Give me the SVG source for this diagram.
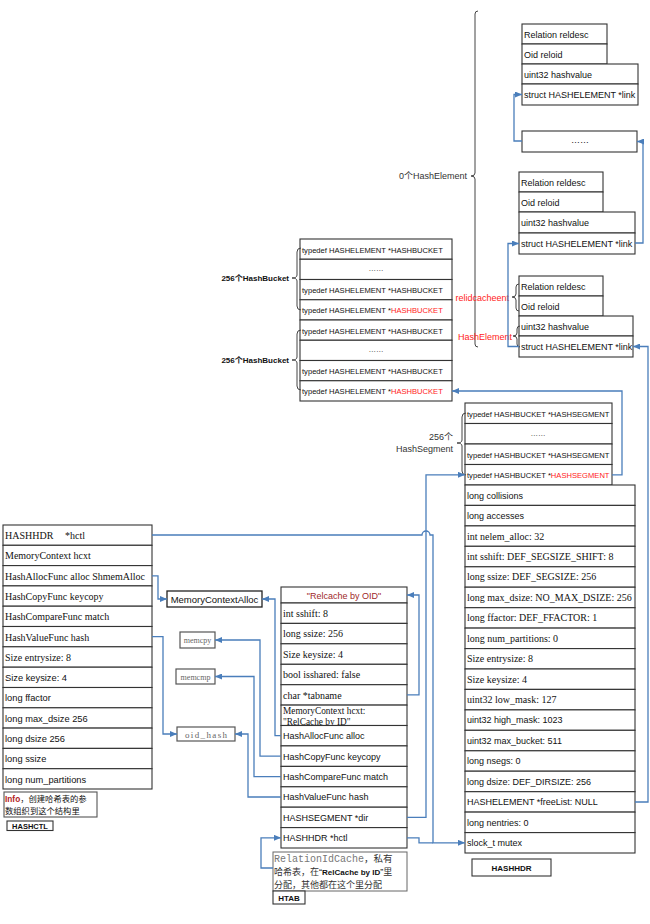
<svg xmlns="http://www.w3.org/2000/svg" width="650" height="924" viewBox="0 0 650 924">
<defs>
<style>
.b{fill:#fff;stroke:#333;stroke-width:1.1}
.s{font-family:"Liberation Sans","Noto Sans CJK SC",sans-serif;font-size:9px;fill:#111}
.t{font-family:"Liberation Serif","Noto Sans CJK SC",serif;font-size:10px;fill:#111}
.sm{font-size:7.6px}
.r{fill:#FF1A1A}
.c{fill:none;stroke:#4A7EBB;stroke-width:1.3}
.br{fill:none;stroke:#444;stroke-width:1}
.lb{font-family:"Liberation Sans","Noto Sans CJK SC",sans-serif;font-size:9px;fill:#333}
.bd{font-weight:bold}
.g{font-family:"Liberation Serif",serif;font-size:8px;fill:#666}
.cj{font-family:"Noto Sans CJK SC",sans-serif}
.mid{text-anchor:middle}
.end{text-anchor:end}
</style>
<marker id="a" markerWidth="7" markerHeight="6" refX="7" refY="3" orient="auto" markerUnits="userSpaceOnUse"><path d="M0,0L7,3L0,6z" fill="#4A7EBB"/></marker>
</defs>
<rect width="650" height="924" fill="#fff"/>

<!-- HashElement 1 -->
<g id="elem1">
<rect class="b" x="522" y="24" width="85" height="20"/><text class="s" x="524" y="37.5">Relation reldesc</text>
<rect class="b" x="522" y="44" width="85" height="20"/><text class="s" x="524" y="57.5">Oid reloid</text>
<rect class="b" x="522" y="64" width="116" height="20"/><text class="s" x="524" y="77.5">uint32 hashvalue</text>
<rect class="b" x="522" y="84" width="116" height="21"/><text class="s" x="524" y="98">struct HASHELEMENT *link</text>
</g>
<g id="elemdots">
<rect class="b" x="522" y="131" width="115" height="21"/><text class="s mid" x="580" y="143">……</text>
</g>
<!-- HashElement 2 -->
<g id="elem2">
<rect class="b" x="519" y="172" width="84" height="20"/><text class="s" x="521" y="185.5">Relation reldesc</text>
<rect class="b" x="519" y="192" width="84" height="20"/><text class="s" x="521" y="205.5">Oid reloid</text>
<rect class="b" x="519" y="212" width="116" height="21"/><text class="s" x="521" y="226">uint32 hashvalue</text>
<rect class="b" x="519" y="233" width="116" height="21"/><text class="s" x="521" y="247">struct HASHELEMENT *link</text>
</g>
<!-- HashElement 3 -->
<g id="elem3">
<rect class="b" x="519" y="276" width="84" height="20"/><text class="s" x="521" y="289.5">Relation reldesc</text>
<rect class="b" x="519" y="296" width="84" height="20"/><text class="s" x="521" y="309.5">Oid reloid</text>
<rect class="b" x="519" y="316" width="114" height="20"/><text class="s" x="521" y="329.5">uint32 hashvalue</text>
<rect class="b" x="519" y="336" width="114" height="21"/><text class="s" x="521" y="350">struct HASHELEMENT *link</text>
</g>

<!-- labels & braces -->
<g id="elemlabels">
<path class="br" d="M478,11 Q475,11 475,14 L475,173 Q475,176 471,176 Q475,176 475,179 L475,344 Q475,347 478,347"/>
<text class="lb end" x="467" y="179">0个HashElement</text>
<path class="br" d="M519,284 Q516,284 516,287 L516,294 Q516,297 512,297 Q516,297 516,300 L516,308 Q516,311 519,311"/>
<text class="s r end" x="509" y="300.5">relidcacheent</text>
<path class="br" d="M520,326 Q517,326 517,329 L517,333 Q517,336 513,336 Q517,336 517,339 L517,344 Q517,347 520,347"/>
<text class="s r end" x="512" y="339.5">HashElement</text>
</g>

<!-- HashBucket array -->
<g id="buckets">
<rect class="b" x="300" y="239" width="152" height="20.25"/><text class="s sm" x="302" y="252.5">typedef HASHELEMENT *HASHBUCKET</text>
<rect class="b" x="300" y="259.25" width="152" height="20.25"/><text class="s sm mid" x="376" y="271">……</text>
<rect class="b" x="300" y="279.5" width="152" height="20.25"/><text class="s sm" x="302" y="293">typedef HASHELEMENT *HASHBUCKET</text>
<rect class="b" x="300" y="299.75" width="152" height="20.25"/><text class="s sm" x="302" y="313.3">typedef HASHELEMENT *<tspan class="r">HASHBUCKET</tspan></text>
<rect class="b" x="300" y="320" width="152" height="20.25"/><text class="s sm" x="302" y="333.5">typedef HASHELEMENT *HASHBUCKET</text>
<rect class="b" x="300" y="340.25" width="152" height="20.25"/><text class="s sm mid" x="376" y="352">……</text>
<rect class="b" x="300" y="360.5" width="152" height="20.25"/><text class="s sm" x="302" y="374">typedef HASHELEMENT *HASHBUCKET</text>
<rect class="b" x="300" y="380.75" width="152" height="20.25"/><text class="s sm" x="302" y="394.3">typedef HASHELEMENT *<tspan class="r">HASHBUCKET</tspan></text>
<path class="br" d="M301,248 Q297,248 297,252 L297,275 Q297,278 292,278 Q297,278 297,281 L297,306 Q297,310 301,310"/>
<path class="br" d="M301,330 Q297,330 297,334 L297,357 Q297,360 292,360 Q297,360 297,363 L297,386 Q297,390 301,390"/>
<text class="s bd end" x="289" y="281" style="font-size:8px">256个HashBucket</text>
<text class="s bd end" x="289" y="363" style="font-size:8px">256个HashBucket</text>
</g>

<!-- HashSegment array -->
<g id="segments">
<rect class="b" x="465" y="403" width="147" height="20.5"/><text class="s sm" x="467" y="416.5">typedef HASHBUCKET *HASHSEGMENT</text>
<rect class="b" x="465" y="423.5" width="147" height="20.5"/><text class="s sm mid" x="538" y="435.5">……</text>
<rect class="b" x="465" y="444" width="147" height="20.5"/><text class="s sm" x="467" y="457.5">typedef HASHBUCKET *HASHSEGMENT</text>
<rect class="b" x="465" y="464.5" width="147" height="20.5"/><text class="s sm" x="467" y="478">typedef HASHBUCKET *<tspan class="r">HASHSEGMENT</tspan></text>
<path class="br" d="M466,413 Q462,413 462,417 L462,440 Q462,443 457,443 Q462,443 462,446 L462,471 Q462,475 466,475"/>
<text class="lb end" x="453" y="440">256个<tspan x="453" dy="12">HashSegment</tspan></text>
</g>

<!-- HASHHDR -->
<g id="hashhdr">
<rect class="b" x="465" y="485" width="170" height="20.4"/><text class="s" x="467" y="498.5">long collisions</text>
<rect class="b" x="465" y="505.4" width="170" height="20.5"/><text class="s" x="467" y="519">long accesses</text>
<rect class="b" x="465" y="525.9" width="170" height="20.4"/><text class="t" x="467" y="539.5">int nelem_alloc: 32</text>
<rect class="b" x="465" y="546.3" width="170" height="20.5"/><text class="t" x="467" y="560">int sshift: DEF_SEGSIZE_SHIFT: 8</text>
<rect class="b" x="465" y="566.8" width="170" height="20.4"/><text class="t" x="467" y="580.4">long ssize: DEF_SEGSIZE: 256</text>
<rect class="b" x="465" y="587.2" width="170" height="20.5"/><text class="t" x="467" y="600.9">long max_dsize: NO_MAX_DSIZE: 256</text>
<rect class="b" x="465" y="607.7" width="170" height="20.4"/><text class="t" x="467" y="621.3">long ffactor: DEF_FFACTOR: 1</text>
<rect class="b" x="465" y="628.1" width="170" height="20.5"/><text class="t" x="467" y="641.8">long num_partitions: 0</text>
<rect class="b" x="465" y="648.6" width="170" height="20.4"/><text class="t" x="467" y="662.2">Size entrysize: 8</text>
<rect class="b" x="465" y="669" width="170" height="20.4"/><text class="t" x="467" y="682.6">Size keysize: 4</text>
<rect class="b" x="465" y="689.4" width="170" height="20.5"/><text class="t" x="467" y="703.1">uint32 low_mask: 127</text>
<rect class="b" x="465" y="709.9" width="170" height="20.4"/><text class="s" x="467" y="723.4">uint32 high_mask: 1023</text>
<rect class="b" x="465" y="730.3" width="170" height="20.5"/><text class="s" x="467" y="743.9">uint32 max_bucket: 511</text>
<rect class="b" x="465" y="750.8" width="170" height="20.4"/><text class="s" x="467" y="764.3">long nsegs: 0</text>
<rect class="b" x="465" y="771.2" width="170" height="20.5"/><text class="s" x="467" y="784.8">long dsize: DEF_DIRSIZE: 256</text>
<rect class="b" x="465" y="791.7" width="170" height="20.4"/><text class="s" x="467" y="805.2">HASHELEMENT *freeList: NULL</text>
<rect class="b" x="465" y="812.1" width="170" height="20.5"/><text class="s" x="467" y="825.7">long nentries: 0</text>
<rect class="b" x="465" y="832.6" width="170" height="20.4"/><text class="s" x="467" y="846.1">slock_t mutex</text>
<rect class="b" x="472" y="859" width="79" height="17"/><text class="s bd mid" x="511.5" y="870.5" style="font-size:8px">HASHHDR</text>
</g>

<!-- HASHCTL -->
<g id="hashctl">
<rect class="b" x="3" y="525" width="149" height="20.3"/><text class="t" x="5" y="539">HASHHDR</text><text class="t" x="65" y="539">*hctl</text>
<rect class="b" x="3" y="545.3" width="149" height="20.3"/><text class="t" x="5" y="559.3">MemoryContext hcxt</text>
<rect class="b" x="3" y="565.6" width="149" height="20.3"/><text class="t" x="5" y="579.6">HashAllocFunc alloc ShmemAlloc</text>
<rect class="b" x="3" y="585.9" width="149" height="20.3"/><text class="t" x="5" y="599.9">HashCopyFunc keycopy</text>
<rect class="b" x="3" y="606.2" width="149" height="20.3"/><text class="t" x="5" y="620.2">HashCompareFunc match</text>
<rect class="b" x="3" y="626.5" width="149" height="20.3"/><text class="t" x="5" y="640.5">HashValueFunc hash</text>
<rect class="b" x="3" y="646.8" width="149" height="20.4"/><text class="t" x="5" y="660.8">Size entrysize: 8</text>
<rect class="b" x="3" y="667.2" width="149" height="20.3"/><text class="s" x="5" y="681" style="font-size:9.3px">Size keysize: 4</text>
<rect class="b" x="3" y="687.5" width="149" height="20.3"/><text class="s" x="5" y="701.3" style="font-size:9.3px">long ffactor</text>
<rect class="b" x="3" y="707.8" width="149" height="20.3"/><text class="s" x="5" y="721.6" style="font-size:9.3px">long max_dsize 256</text>
<rect class="b" x="3" y="728.1" width="149" height="20.3"/><text class="s" x="5" y="741.9" style="font-size:9.3px">long dsize 256</text>
<rect class="b" x="3" y="748.4" width="149" height="20.3"/><text class="s" x="5" y="762.2" style="font-size:9.3px">long ssize</text>
<rect class="b" x="3" y="768.7" width="149" height="20.3"/><text class="s" x="5" y="782.5" style="font-size:9.3px">long num_partitions</text>
<rect class="b" x="4" y="792" width="93" height="25" style="stroke:#555"/>
<text class="s" x="5" y="801.5" style="font-size:8.3px"><tspan class="bd" style="fill:#B22222;font-size:8.3px">Info</tspan><tspan class="cj">，创建哈希表的参</tspan></text>
<text class="s cj" x="5" y="813.6" style="font-size:8.3px">数组织到这个结构里</text>
<rect class="b" x="7" y="821" width="46" height="9.5"/><text class="s bd mid" x="30" y="829" style="font-size:7.5px">HASHCTL</text>
</g>

<!-- function boxes -->
<g id="memctxalloc"><rect x="167" y="591" width="95" height="16" fill="#fff" stroke="#222" stroke-width="1.3"/><text class="s mid" x="214.5" y="602.5" style="font-size:9.5px">MemoryContextAlloc</text></g>
<g id="memcpy"><rect x="180" y="632" width="35" height="16" fill="#fff" stroke="#555" stroke-width="1.2"/><text class="g mid" x="197.5" y="643">memcpy</text></g>
<g id="memcmp"><rect x="176" y="669" width="39" height="15" fill="#fff" stroke="#555" stroke-width="1.2"/><text class="g mid" x="195.5" y="679.5">memcmp</text></g>
<g id="oidhash"><rect x="177" y="727" width="58" height="14" fill="#fff" stroke="#555" stroke-width="1.2"/><text class="g" x="185" y="737.5" style="font-size:9px" textLength="42" lengthAdjust="spacing">oid_hash</text></g>

<!-- HTAB -->
<g id="htab">
<rect class="b" x="281" y="587" width="126" height="16"/><text class="s mid" x="344" y="598.5" style="fill:#A0282A">"Relcache by OID"</text>
<rect class="b" x="281" y="603" width="126" height="20.4"/><text class="t" x="283" y="617">int sshift: 8</text>
<rect class="b" x="281" y="623.4" width="126" height="20.4"/><text class="t" x="283" y="637.4">long ssize: 256</text>
<rect class="b" x="281" y="643.8" width="126" height="20.5"/><text class="t" x="283" y="657.8">Size keysize: 4</text>
<rect class="b" x="281" y="664.3" width="126" height="20.4"/><text class="t" x="283" y="678.3">bool isshared: false</text>
<rect class="b" x="281" y="684.7" width="126" height="20.4"/><text class="t" x="283" y="698.7">char *tabname</text>
<rect class="b" x="281" y="705.1" width="126" height="20.4"/><text class="t" x="283" y="713.8" style="font-size:9.3px">MemoryContext hcxt:<tspan x="283" dy="11">"RelCache by ID"</tspan></text>
<rect class="b" x="281" y="725.5" width="126" height="20.4"/><text class="s" x="283" y="739">HashAllocFunc alloc</text>
<rect class="b" x="281" y="745.9" width="126" height="20.5"/><text class="s" x="283" y="759.5">HashCopyFunc keycopy</text>
<rect class="b" x="281" y="766.4" width="126" height="20.4"/><text class="s" x="283" y="779.9">HashCompareFunc match</text>
<rect class="b" x="281" y="786.8" width="126" height="20.4"/><text class="s" x="283" y="800.3">HashValueFunc hash</text>
<rect class="b" x="281" y="807.2" width="126" height="20.4"/><text class="s" x="283" y="820.7">HASHSEGMENT *dir</text>
<rect class="b" x="281" y="827.6" width="126" height="20.4"/><text class="s" x="283" y="841.1">HASHHDR *hctl</text>
</g>
<g id="htabnote">
<rect x="273" y="852" width="134" height="39" fill="#fff" stroke="#666" stroke-width="1"/>
<text x="274" y="862"><tspan style="font-family:'Liberation Mono',monospace;font-size:10px;fill:#777">RelationIdCache</tspan><tspan class="cj" style="font-size:9.5px;fill:#333">，私有</tspan></text>
<text x="274" y="875.2"><tspan class="cj" style="font-size:9px;fill:#333">哈希表，在</tspan><tspan style="font-family:'Liberation Sans',sans-serif;font-size:9px;fill:#222">“</tspan><tspan style="font-family:'Liberation Sans',sans-serif;font-size:8px;font-weight:bold;fill:#111">RelCache by ID</tspan><tspan style="font-family:'Liberation Sans',sans-serif;font-size:9px;fill:#222">”</tspan><tspan class="cj" style="font-size:9px;fill:#333">里</tspan></text>
<text class="cj" x="274" y="888.2" style="font-size:9px;fill:#333">分配，其他都在这个里分配</text>
<rect class="b" x="273" y="891" width="32" height="13"/><text class="s bd mid" x="289" y="900.8" style="font-size:8px">HTAB</text>
</g>

<!-- connectors -->
<g id="connectors">
<path class="c" marker-end="url(#a)" d="M522,141 H514 V94.5 H522"/>
<path class="c" marker-end="url(#a)" d="M635,243 H643 V141.5 H637"/>
<path class="c" marker-end="url(#a)" d="M519,346.5 H508 V243.5 H519"/>
<path class="c" marker-end="url(#a)" d="M635,802 H648 V346.5 H633"/>
<path class="c" marker-end="url(#a)" d="M612,474.8 H622 V391 H452"/>
<path class="c" marker-end="url(#a)" d="M407,817.4 H426 V474.8 H465"/>
<path class="c" marker-end="url(#a)" d="M152,535 H422 A4,4 0 0 1 430,535 H433 V842.8 H465"/>
<path class="c" d="M407,837.8 H419 V842.8 H433"/>
<path class="c" marker-end="url(#a)" d="M407,694.9 H419 V595 H407"/>
<path class="c" marker-end="url(#a)" d="M273,868 H261 V837.8 H281"/>
<path class="c" marker-end="url(#a)" d="M152,575.8 H158 V599 H167"/>
<path class="c" marker-end="url(#a)" d="M281,735.7 H275 V599 H262"/>
<path class="c" marker-end="url(#a)" d="M152,636.7 H163 V734 H177"/>
<path class="c" marker-end="url(#a)" d="M281,756.1 H260 V640 H215"/>
<path class="c" marker-end="url(#a)" d="M281,776.6 H254 V676.5 H215"/>
<path class="c" marker-end="url(#a)" d="M281,797 H248 V734 H235"/>
</g>
</svg>
